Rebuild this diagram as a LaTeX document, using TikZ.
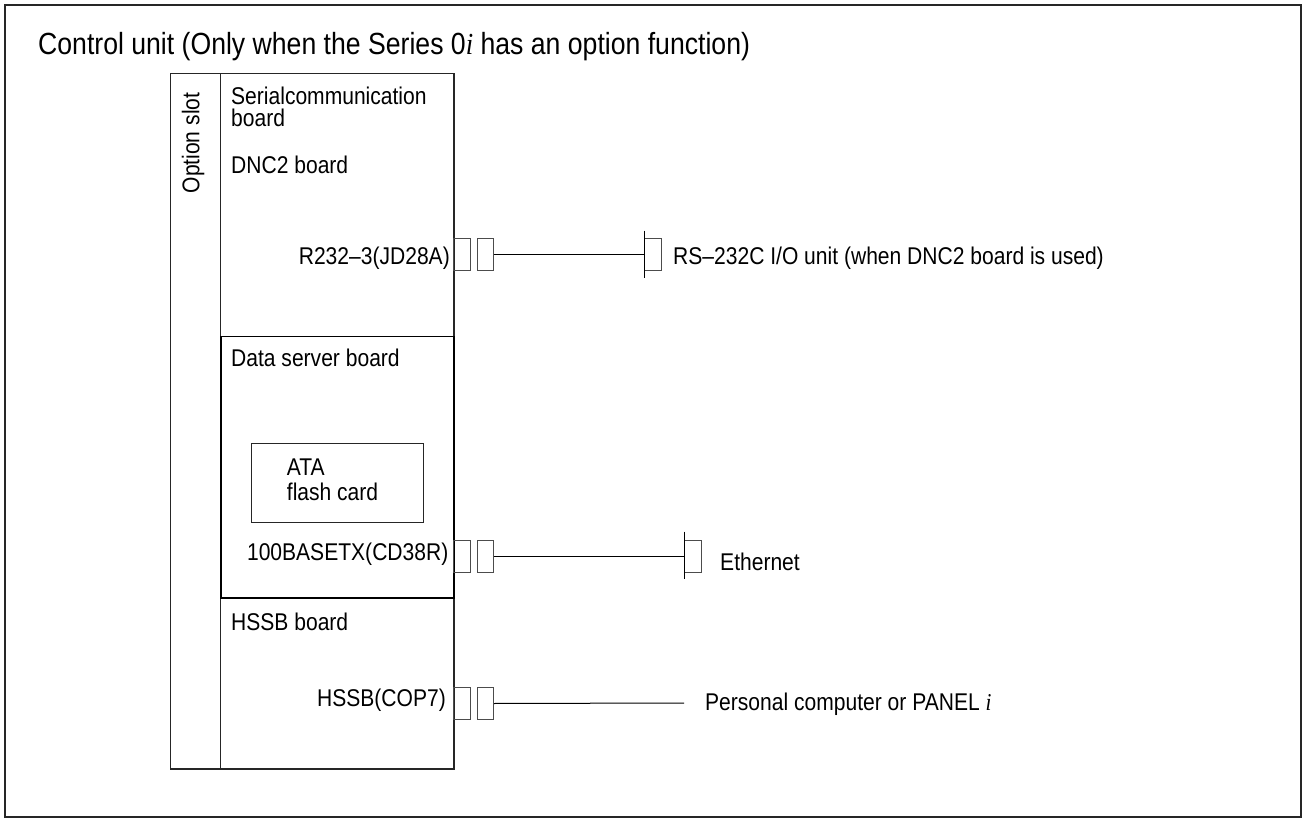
\documentclass[tikz,border=0pt]{standalone}
\usepackage{fontspec}
\setmainfont{Liberation Sans}[FakeStretch=0.87]
\newfontfamily\serifit{Liberation Serif}[FakeStretch=0.87]
\begin{document}
\begin{tikzpicture}[x=1pt,y=-1pt,
  lbl/.style={inner sep=0pt,font=\fontsize{24.2}{28}\selectfont},
  ttl/.style={inner sep=0pt,font=\fontsize{30.6}{35}\selectfont},
  box/.style={draw=black!85,line width=1.2pt,inner sep=0pt,anchor=north west},
  thickbox/.style={draw=black,line width=1.8pt,inner sep=0pt,anchor=north west},
  conn/.style={draw=black!70,line width=1pt,inner sep=0pt,anchor=north west,minimum width=16.5pt,minimum height=32pt},
  wire/.style={draw=black,line width=1pt}]
\useasboundingbox (0,0) rectangle (1302,818);
% outer frame
\node[draw=black!85,line width=1.6pt,inner sep=0pt,anchor=north west,minimum width=1296pt,minimum height=812pt] (frame) at (4,4) {};
\node[ttl,anchor=base west] (title) at (38,55) {Control unit (Only when the Series 0{\serifit\itshape i} has an option function)};
% option slot
\node[box,minimum width=50pt,minimum height=695.6pt] (slot) at (170,72.7) {};
\node[lbl,rotate=90] (slottxt) at (193,143) {Option slot};
% boards
\node[box,minimum width=233.3pt,minimum height=263pt] (serial) at (220,72.7) {};
\node[box,minimum width=233.3pt,minimum height=171pt] (hssb) at (220,597.3) {};
\node[thickbox,minimum width=233.3pt,minimum height=261.6pt] (dserv) at (220,335.7) {};
% serial board texts
\node[lbl,anchor=base west] (t1) at (231,105) {Serialcommunication};
\node[lbl,anchor=base west] (t2) at (231,127) {board};
\node[lbl,anchor=base west] (t3) at (231,174) {DNC2 board};
\node[lbl,anchor=base east] (t4) at (450,265) {R232--3(JD28A)};
% data server texts
\node[lbl,anchor=base west] (t5) at (231,366.7) {Data server board};
\node[draw=black!85,line width=1pt,inner sep=0pt,anchor=north west,minimum width=171.4pt,minimum height=79pt] (ata) at (251.3,443.3) {};
\node[lbl,anchor=base west] (t6) at (286.7,475) {ATA};
\node[lbl,anchor=base west] (t7) at (286.7,500) {flash card};
\node[lbl,anchor=base east] (t8) at (448.5,560) {100BASETX(CD38R)};
% hssb texts
\node[lbl,anchor=base west] (t9) at (231,630) {HSSB board};
\node[lbl,anchor=base east] (t10) at (446,706.7) {HSSB(COP7)};
% connectors row 1
\node[conn] (c1a) at (453,238.5) {};
\node[conn] (c1b) at (476.5,238.5) {};
\coordinate (r1top) at (644,230.7);
\coordinate (r1bot) at (644,278.3);
\node[conn] (r1) at (644,238.5) {};
\draw[wire] (r1top) -- (r1bot);
\draw[wire] (c1b.east) -- (r1.west);
\node[lbl,anchor=base west] (rs) at (673,265) {RS--232C I/O unit (when DNC2 board is used)};
% connectors row 2
\node[conn] (c2a) at (453,539.5) {};
\node[conn] (c2b) at (476.5,539.5) {};
\coordinate (r2top) at (684,531.5);
\coordinate (r2bot) at (684,579);
\node[conn] (r2) at (684,539.5) {};
\draw[wire] (r2top) -- (r2bot);
\draw[wire] (c2b.east) -- (r2.west);
\node[lbl,anchor=base west] (eth) at (720,570) {Ethernet};
% connectors row 3
\node[conn] (c3a) at (453,687) {};
\node[conn] (c3b) at (476.5,687) {};
\coordinate (r3) at (684,703);
\draw[wire] (c3b.east) -- (r3);
\node[lbl,anchor=base west] (pc) at (705,710) {Personal computer or PANEL {\serifit\itshape i}};
\end{tikzpicture}
\end{document}
